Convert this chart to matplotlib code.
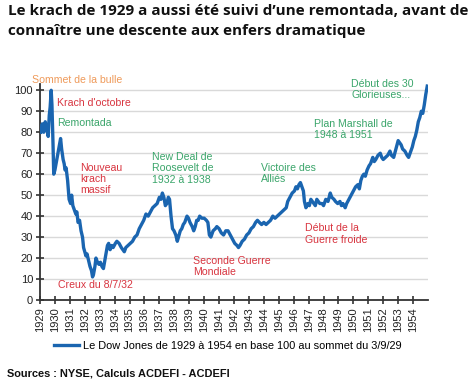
import matplotlib
matplotlib.use("Agg")
import matplotlib.pyplot as plt

# ---- data (decimal year, Dow Jones base 100 at 3/9/29) ----
years = [1929.05, 1929.15, 1929.25, 1929.35, 1929.45, 1929.55, 1929.62, 1929.68, 1929.75, 1929.8,
         1929.87, 1929.92, 1930.0, 1930.1, 1930.2, 1930.3, 1930.38, 1930.45, 1930.55, 1930.62,
         1930.68, 1930.75, 1930.85, 1930.95, 1931.05, 1931.12, 1931.2, 1931.3, 1931.4, 1931.47,
         1931.55, 1931.65, 1931.75, 1931.85, 1931.92, 1932.0, 1932.08, 1932.15, 1932.25, 1932.35,
         1932.45, 1932.52, 1932.58, 1932.68, 1932.75, 1932.85, 1932.95, 1933.05, 1933.15, 1933.25,
         1933.32, 1933.42, 1933.52, 1933.6, 1933.7, 1933.8, 1933.9, 1934.05, 1934.15, 1934.3,
         1934.45, 1934.55, 1934.65, 1934.75, 1934.9, 1935.05, 1935.2, 1935.35, 1935.5, 1935.65,
         1935.8, 1935.95, 1936.1, 1936.25, 1936.4, 1936.55, 1936.7, 1936.85, 1937.0, 1937.1,
         1937.2, 1937.3, 1937.4, 1937.5, 1937.6, 1937.68, 1937.78, 1937.88, 1937.98, 1938.1,
         1938.2, 1938.28, 1938.4, 1938.5, 1938.6, 1938.7, 1938.85, 1938.95, 1939.05, 1939.2,
         1939.3, 1939.4, 1939.5, 1939.6, 1939.7, 1939.85, 1940.0, 1940.15, 1940.25, 1940.35,
         1940.45, 1940.6, 1940.75, 1940.85, 1941.0, 1941.15, 1941.3, 1941.45, 1941.6, 1941.75,
         1941.9, 1942.05, 1942.2, 1942.3, 1942.4, 1942.55, 1942.7, 1942.85, 1943.0, 1943.15,
         1943.3, 1943.45, 1943.57, 1943.7, 1943.85, 1944.0, 1944.15, 1944.3, 1944.45, 1944.6,
         1944.75, 1944.9, 1945.05, 1945.2, 1945.35, 1945.5, 1945.6, 1945.75, 1945.9, 1946.05,
         1946.15, 1946.25, 1946.35, 1946.45, 1946.55, 1946.65, 1946.72, 1946.82, 1946.95, 1947.05,
         1947.15, 1947.25, 1947.35, 1947.45, 1947.55, 1947.65, 1947.75, 1947.9, 1948.0, 1948.15,
         1948.3, 1948.45, 1948.55, 1948.7, 1948.8, 1948.95, 1949.1, 1949.2, 1949.3, 1949.45,
         1949.55, 1949.7, 1949.85, 1950.0, 1950.15, 1950.3, 1950.4, 1950.5, 1950.6, 1950.7,
         1950.8, 1950.92, 1951.05, 1951.15, 1951.3, 1951.4, 1951.5, 1951.65, 1951.8, 1951.9,
         1952.0, 1952.15, 1952.3, 1952.45, 1952.55, 1952.7, 1952.85, 1953.0, 1953.1, 1953.2,
         1953.3, 1953.45, 1953.6, 1953.7, 1953.8, 1953.95, 1954.05, 1954.15, 1954.25, 1954.35,
         1954.45, 1954.55, 1954.65, 1954.75, 1954.85, 1954.95]
values = [80, 84, 80, 85, 82, 78, 88, 92, 100, 93,
          75, 60, 62, 66, 70, 74, 77, 72, 67, 65,
          62, 63, 57, 48, 46, 50, 45, 43, 41, 42,
          37, 38, 33, 30, 25, 23, 21, 22, 19, 16,
          14, 11, 12, 16, 20, 18, 17, 18, 16, 15,
          18, 22, 26, 27, 24, 26, 25, 27, 28, 27,
          25, 24, 23, 25, 26, 27, 28, 30, 31, 34,
          36, 38, 41, 40, 42, 44, 45, 46, 49, 48,
          51, 49, 45, 46, 49, 48, 40, 34, 33, 31,
          28, 30, 33, 34, 36, 37, 40, 39, 37, 35,
          33, 35, 38, 38, 40, 39, 39, 38, 37, 31,
          30, 33, 34, 35, 34, 32, 31, 33, 33, 31,
          29, 27, 26, 25, 26, 28, 29, 31, 32, 34,
          35, 37, 38, 37, 36, 37, 36, 37, 38, 40,
          39, 40, 41, 42, 43, 44, 47, 49, 51, 52,
          54, 53, 55, 56, 54, 52, 47, 44, 46, 45,
          48, 47, 46, 45, 48, 47, 46, 46, 45, 48,
          47, 51, 49, 48, 47, 46, 47, 45, 46, 44,
          46, 48, 50, 52, 54, 55, 53, 57, 59, 60,
          59, 62, 64, 65, 68, 66, 67, 69, 70, 68,
          67, 68, 69, 71, 69, 68, 72, 76, 75, 74,
          72, 71, 69, 68, 70, 73, 76, 78, 81, 85,
          87, 90, 89, 93, 98, 102]

tick_years = list(range(1929, 1955))
y_ticks = list(range(0, 101, 10))

title = "Le krach de 1929 a aussi été suivi d\u2019une remontada, avant de\nconnaître une descente aux enfers dramatique"
legend_label = "Le Dow Jones de 1929 à 1954 en base 100 au sommet du 3/9/29"
source = "Sources : NYSE, Calculs ACDEFI - ACDEFI"

GREEN = "#3aa56a"
RED = "#d8343f"
ORANGE = "#ef9a5a"
BLUE = "#1a65b0"

annotations = [
    ("Sommet de la bulle", 1928.47, 107.5, ORANGE),
    ("Krach d'octobre", 1930.15, 96.5, RED),
    ("Remontada", 1930.15, 87.0, GREEN),
    ("Nouveau\nkrach\nmassif", 1931.7, 65.5, RED),
    ("New Deal de\nRoosevelt de\n1932 à 1938", 1936.5, 70.5, GREEN),
    ("Creux du 8/7/32", 1930.2, 9.5, RED),
    ("Seconde Guerre\nMondiale", 1939.25, 21.0, RED),
    ("Victoire des\nAlliés", 1943.8, 65.5, GREEN),
    ("Plan Marshall de\n1948 à 1951", 1947.35, 86.5, GREEN),
    ("Début des 30\nGlorieuses...", 1949.85, 105.5, GREEN),
    ("Début de la\nGuerre froide", 1946.75, 36.5, RED),
]

fig = plt.figure(figsize=(4.74, 3.84), dpi=100)
plt.rcParams['font.family'] = ['Liberation Sans', 'DejaVu Sans']

ax = fig.add_axes([40 / 474, 1 - 300 / 384, 388 / 474, (300 - 84) / 384])
ax.plot(years, values, color=BLUE, lw=2.4, solid_joinstyle='round', zorder=3)

ax.set_xlim(1929, 1955)
ax.set_ylim(0, 103)
ax.set_yticks(y_ticks)
ax.set_xticks(tick_years)
ax.set_xticklabels([str(y) for y in tick_years], rotation=90, fontsize=8, color="#222222")
ax.set_yticklabels([str(v) for v in y_ticks], fontsize=8, color="#222222")
ax.grid(axis='y', color="#d9d9d9", lw=1.0, zorder=0)
ax.set_axisbelow(True)
for s in ["top", "right"]:
    ax.spines[s].set_visible(False)
for s in ["left", "bottom"]:
    ax.spines[s].set_color("#333333")
    ax.spines[s].set_linewidth(1.3)
ax.tick_params(axis='both', direction='inout', length=6, width=1.2, color="#333333", pad=2)

for txt, x, y, c in annotations:
    ax.text(x, y, txt, color=c, fontsize=7.6, va='top', ha='left', linespacing=1.15,
            clip_on=False, zorder=4)

fig.text(8 / 474, 1 - 4 / 384, title, fontsize=11.0, fontweight='bold', va='top', ha='left',
         color="#111111", linespacing=1.55, family=['Open Sans', 'DejaVu Sans'])

# legend
leg = fig.legend([ax.lines[0]], [legend_label], loc='center left',
                 bbox_to_anchor=(44 / 474, 1 - 346 / 384),
                 frameon=False, fontsize=7.9, handlelength=2.3, handletextpad=0.35)
for h in leg.get_lines():
    h.set_linewidth(2.4)

fig.text(7 / 474, 1 - 373 / 384, source, fontsize=7.9, fontweight='bold', va='center', ha='left',
         color="#111111")

fig.savefig("out.png", dpi=100)
